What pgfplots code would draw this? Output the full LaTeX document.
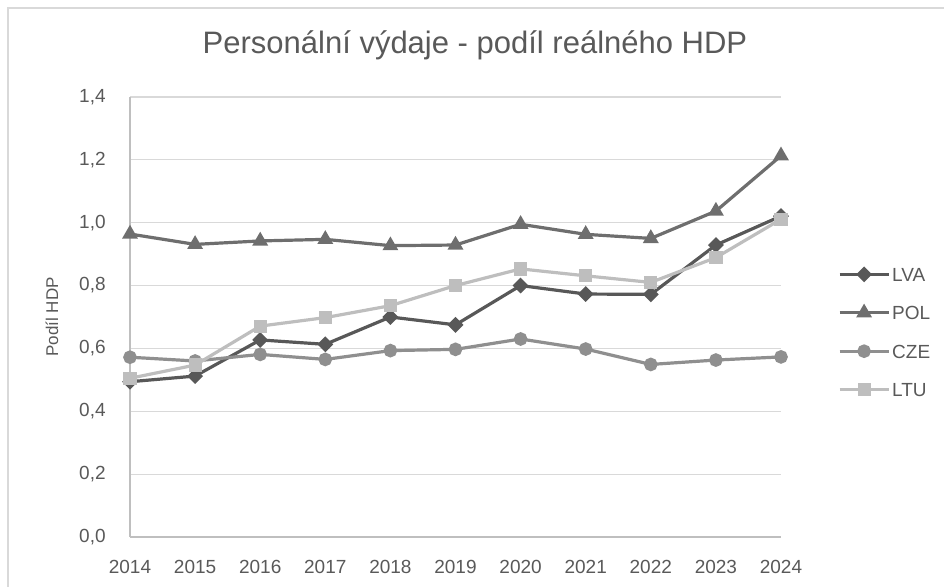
\documentclass[border=0pt]{standalone}
\usepackage{fontspec}
\setmainfont{Liberation Sans}
\usepackage{pgfplots}
\pgfplotsset{compat=1.18}
\definecolor{txt}{RGB}{89,89,89}
\definecolor{gridc}{RGB}{217,217,217}
\definecolor{axc}{RGB}{191,191,191}
\definecolor{clva}{RGB}{88,88,88}
\definecolor{cpol}{RGB}{110,110,110}
\definecolor{ccze}{RGB}{143,143,143}
\definecolor{cltu}{RGB}{190,190,190}

\begin{document}
\begin{tikzpicture}
% page = 944 x 587 px at 0.5pt per px
\useasboundingbox (0pt,0pt) rectangle (472pt,293.5pt);
\draw[gray!30, line width=0.8pt] (4pt,0pt) -- (4pt,289.5pt) -- (472pt,289.5pt);
\begin{axis}[
    at={(65pt,25pt)}, anchor=south west,
    width=325.5pt, height=220pt, scale only axis,
    xmin=2014, xmax=2024, ymin=0, ymax=1.4,
    xtick={2014,2015,...,2024},
    ytick={0,0.2,0.4,0.6,0.8,1.0,1.2,1.4},
    axis x line*=bottom, axis y line*=left,
    axis line style={axc, line width=0.8pt},
    major tick length=0pt,
    ymajorgrids, grid style={gridc, line width=0.6pt},
    tick label style={font=\fontsize{9.5}{11}\selectfont, text=txt},
    /pgf/number format/assume math mode=true,
    yticklabel style={/pgf/number format/.cd, fixed, fixed zerofill, precision=1, use comma, /tikz/.cd, inner sep=0pt, xshift=-12pt},
    xticklabel style={/pgf/number format/1000 sep={}, inner sep=0pt, yshift=-11.5pt},
    ylabel={Podíl HDP},
    ylabel style={at={(axis description cs:-0.1198,0.5)}, anchor=center, font=\fontsize{8.5}{10}\selectfont, text=txt},
    legend style={at={(axis description cs:1,0.5)}, anchor=west, xshift=28.5pt, yshift=-7.5pt,
        draw=none, fill=none, inner sep=0pt, outer sep=0pt, row sep=10.2pt,
        font=\fontsize{9.5}{11}\selectfont, text=txt,
        nodes={inner sep=1pt, text height=7pt, text depth=0pt}},
    legend cell align=left,
    legend image code/.code={\draw[#1, mark repeat=2, mark phase=2] plot coordinates {(0pt,0pt) (12.25pt,0pt) (24.5pt,0pt)};},
]
\addplot[clva, line width=1.6pt, mark=square*, mark size=2pt, mark options={solid, rotate=45, fill=clva}] coordinates {
    (2014,0.494) (2015,0.512) (2016,0.627) (2017,0.613) (2018,0.700) (2019,0.675)
    (2020,0.800) (2021,0.773) (2022,0.772) (2023,0.929) (2024,1.021)
};
\addlegendentry{LVA}
\addplot[cpol, line width=1.6pt, mark=triangle*, mark size=3pt, mark options={solid, fill=cpol}] coordinates {
    (2014,0.964) (2015,0.931) (2016,0.942) (2017,0.947) (2018,0.927) (2019,0.929)
    (2020,0.995) (2021,0.963) (2022,0.950) (2023,1.037) (2024,1.213)
};
\addlegendentry{POL}
\addplot[ccze, line width=1.6pt, mark=*, mark size=2.6pt, mark options={solid, fill=ccze}] coordinates {
    (2014,0.572) (2015,0.560) (2016,0.581) (2017,0.565) (2018,0.593) (2019,0.597)
    (2020,0.630) (2021,0.598) (2022,0.549) (2023,0.563) (2024,0.573)
};
\addlegendentry{CZE}
\addplot[cltu, line width=1.6pt, mark=square*, mark size=2.5pt, mark options={solid, fill=cltu}] coordinates {
    (2014,0.505) (2015,0.547) (2016,0.671) (2017,0.698) (2018,0.736) (2019,0.800)
    (2020,0.853) (2021,0.831) (2022,0.810) (2023,0.889) (2024,1.011)
};
\addlegendentry{LTU}
\end{axis}
\node[font=\fontsize{15.5}{18}\selectfont, text=txt] at (237.5pt,271pt) {Personální výdaje - podíl reálného HDP};
\end{tikzpicture}
\end{document}
